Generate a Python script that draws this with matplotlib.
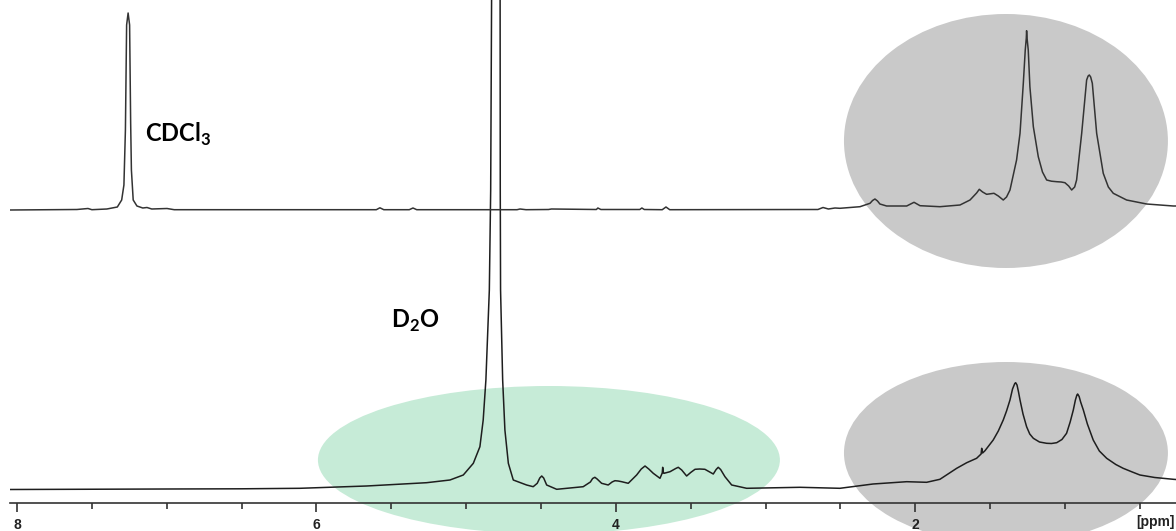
import matplotlib
matplotlib.use("Agg")
import matplotlib.pyplot as plt
from matplotlib.patches import Ellipse
from matplotlib.ticker import MultipleLocator, FixedLocator, FixedFormatter

# ---- data (ppm, intensity above own baseline) ----
bottom_ppm = [8.05, 7.0, 6.5, 6.11, 5.665, 5.264, 5.108, 5.019, 4.952, 4.908, 4.886, 4.868,
              4.845, 4.836, 4.830, 4.80, 4.773, 4.772, 4.770, 4.756, 4.741, 4.718, 4.685,
              4.596, 4.552, 4.525, 4.508, 4.495, 4.482, 4.462, 4.395, 4.218, 4.17, 4.155,
              4.140, 4.125, 4.095, 4.051, 4.025, 4.006, 3.985, 3.961, 3.917, 3.861, 3.83,
              3.805, 3.78, 3.750, 3.705, 3.690, 3.687, 3.682, 3.678, 3.638, 3.60, 3.583,
              3.56, 3.527, 3.50, 3.471, 3.44, 3.405, 3.349, 3.33, 3.316, 3.30, 3.271, 3.226,
              3.126, 2.770, 2.503, 2.282, 2.057, 1.924, 1.835, 1.723, 1.656, 1.590, 1.560,
              1.556, 1.550, 1.534, 1.479, 1.445, 1.412, 1.39, 1.367, 1.350, 1.335, 1.329,
              1.320, 1.310, 1.300, 1.28, 1.256, 1.235, 1.211, 1.17, 1.122, 1.09, 1.055,
              1.02, 0.989, 0.965, 0.944, 0.93, 0.92, 0.915, 0.905, 0.895, 0.877, 0.85,
              0.811, 0.77, 0.721, 0.66, 0.611, 0.55, 0.499, 0.40, 0.276, 0.258]
bottom_int = [0.5, 1.0, 1.2, 1.7, 4, 7.3, 10, 15, 26.7, 43.3, 70, 110,
              200, 300, 490, 2500, 490, 300, 200, 110, 60, 26.7, 10,
              5, 3.3, 6.7, 12, 14, 12, 5, 0.7, 3.3, 8, 11.5,
              12.7, 11, 6.7, 5, 8, 9.3, 9, 8.3, 6.7, 15, 21,
              24, 21, 16.7, 11.7, 17, 22.7, 17, 16.7, 18.3, 21.5, 22.7,
              20, 14, 17.5, 20.7, 21, 20.7, 16, 20.5, 22.7, 20.5, 13.3, 5,
              1.7, 2.7, 1.7, 6, 8.3, 7.7, 10.7, 21.7, 27.3, 31.7, 36,
              41.7, 37, 39.3, 50, 59, 70, 79, 90, 101, 106.5, 107.3,
              105, 98, 90, 76, 63.3, 56, 51.7, 48, 46.7, 46.5, 47.3,
              50.5, 56.7, 68, 80, 90, 95, 96, 93.5, 88, 80, 66,
              50, 39, 31.7, 25.5, 21.7, 18, 15, 12.5, 10.7, 10.5]

top_ppm = [8.05, 7.60, 7.526, 7.50, 7.40, 7.33, 7.301, 7.286, 7.276, 7.268, 7.258, 7.248,
           7.241, 7.236, 7.224, 7.199, 7.16, 7.132, 7.10, 6.998, 6.95, 5.60, 5.576, 5.55,
           5.38, 5.355, 5.33, 4.66, 4.64, 4.60, 4.45, 4.43, 4.13, 4.12, 4.10, 3.84, 3.826,
           3.81, 3.69, 3.665, 3.64, 2.65, 2.616, 2.58, 2.536, 2.503, 2.369, 2.302, 2.285,
           2.269, 2.252, 2.236, 2.191, 2.057, 2.008, 1.968, 1.835, 1.701, 1.634, 1.59,
           1.572, 1.55, 1.523, 1.474, 1.445, 1.412, 1.39, 1.367, 1.323, 1.300, 1.278, 1.265,
           1.258, 1.256, 1.253, 1.245, 1.234, 1.211, 1.178, 1.15, 1.122, 1.09, 1.055, 1.025,
           1.000, 0.975, 0.955, 0.935, 0.922, 0.888, 0.855, 0.845, 0.837, 0.828, 0.817,
           0.788, 0.744, 0.71, 0.677, 0.588, 0.454, 0.276, 0.258]
top_int = [0, 0.5, 1.5, 0.3, 1, 3, 10, 25, 80, 185, 197, 185,
           87, 40, 10, 4, 2, 2.5, 1, 1.5, 0.3, 0.3, 2.2, 0.3,
           0.3, 2, 0.3, 0.3, 1, 0.3, 0.5, 1, 0.5, 2, 0.5, 0.5, 2,
           0.5, 0.3, 3, 0.3, 0.5, 2.5, 1, 2, 1.7, 3.3, 6.7, 9.5,
           11, 9, 6, 4, 4, 7.7, 4.3, 3.3, 5, 10, 17,
           20.7, 18, 15.7, 16.7, 14, 10, 13, 20, 50, 76.7, 126.7, 160,
           172, 179.3, 172, 160, 123.3, 83.3, 53.3, 38, 30, 28.8, 28.3, 28,
           27.3, 24, 20, 23, 30, 76.7, 130, 134, 135, 133, 126.7,
           76.7, 36.7, 23, 16.7, 10, 6, 4, 4]

major_ticks = [8, 6, 4, 2]
major_labels = ["8", "6", "4", "2"]
solvent_labels = [r"CDCl$_{\mathbf{3}}$", r"D$_{\mathbf{2}}$O"]

# ---- figure ----
plt.rcParams["mathtext.fontset"] = "custom"
plt.rcParams["mathtext.rm"] = "Lato:bold"
plt.rcParams["mathtext.bf"] = "Lato:bold"

W, H = 1176, 531
fig = plt.figure(figsize=(W / 100, H / 100), dpi=100)
ax = fig.add_axes([10 / W, 28 / H, 1166 / W, 503 / H])
ax.set_facecolor("none")
ax.set_xlim(8.047, 0.258)
ax.set_ylim(-13, 490)

top_offset = 280
ax.plot(bottom_ppm, bottom_int, color="#1e1e1e", lw=1.1, zorder=3)
ax.plot(top_ppm, [v + top_offset for v in top_int], color="#333333", lw=1.1, zorder=3)

# highlight ellipses
ax.add_patch(Ellipse((1.394, 349), 2.164, 254, facecolor="#c9c9c9", edgecolor="none",
                     zorder=0, clip_on=False))
ax.add_patch(Ellipse((1.394, 37), 2.164, 182, facecolor="#c9c9c9", edgecolor="none",
                     zorder=0, clip_on=False))
ax.add_patch(Ellipse((4.447, 30), 3.086, 148, facecolor="#c6ebd7", edgecolor="none",
                     zorder=0, clip_on=False))

# axis styling
for s in ["left", "right", "top"]:
    ax.spines[s].set_visible(False)
ax.spines["bottom"].set_color("#333333")
ax.spines["bottom"].set_linewidth(1.2)
ax.set_yticks([])
ax.xaxis.set_major_locator(FixedLocator(major_ticks))
ax.xaxis.set_major_formatter(FixedFormatter(major_labels))
ax.xaxis.set_minor_locator(MultipleLocator(0.5))
ax.tick_params(axis="x", which="major", direction="out", length=6.5, width=1.2,
               color="#333333", pad=4)
ax.tick_params(axis="x", which="minor", direction="out", length=4.5, width=1.2,
               color="#333333")
for lab in ax.get_xticklabels():
    lab.set_fontfamily("Liberation Sans")
    lab.set_fontweight("bold")
    lab.set_fontsize(10)
    lab.set_color("#222222")

fig.text(1175 / W, (531 - 522) / H, "[ppm]", ha="right", va="center",
         fontfamily="Liberation Sans", fontweight="bold", fontsize=10, color="#222222")

# solvent labels
ax.text(7.145, 348, solvent_labels[0], ha="left", va="baseline", fontfamily="Lato",
        fontweight="bold", fontsize=17, color="black")
ax.text(5.50, 162, solvent_labels[1], ha="left", va="baseline", fontfamily="Lato",
        fontweight="bold", fontsize=17, color="black")

fig.savefig("out.png", dpi=100)
